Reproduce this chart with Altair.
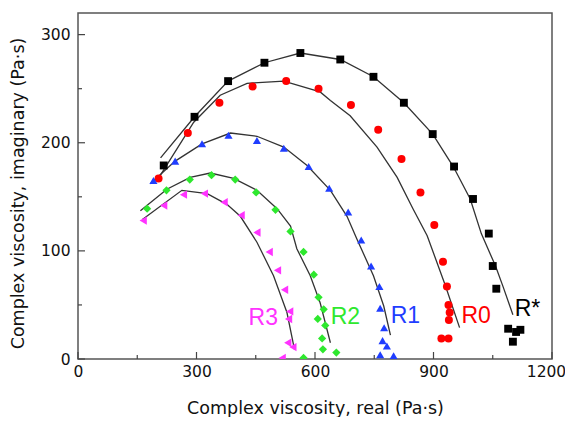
import altair as alt
import pandas as pd

series = ["R*", "R0", "R1", "R2", "R3"]
colors = ["#000000", "#ff0000", "#1f3dff", "#2ee82e", "#ff33ff"]
shapes = ["square", "circle", "triangle-up", "diamond", "triangle-left"]
sizes = [62, 70, 80, 70, 80]

# measured points (real, imaginary)
rs_x = [217, 295, 380, 472, 563, 664, 748, 825, 898, 952, 1000, 1040, 1050, 1059, 1089, 1101, 1109, 1120]
rs_y = [179, 224, 257, 274, 283, 277, 261, 237, 208, 178, 148, 116, 86, 65, 28, 16, 25, 27]
r0_x = [204, 278, 358, 442, 527, 609, 691, 760, 819, 867, 902, 924, 934, 938, 941, 939, 920, 938]
r0_y = [167, 209, 237, 252, 257, 250, 235, 212, 185, 154, 124, 90, 67, 50, 43, 36, 19, 19]
r1_x = [191, 246, 314, 381, 453, 521, 584, 636, 684, 717, 742, 763, 765, 775, 771, 782, 765, 799]
r1_y = [165, 183, 199, 207, 202, 195, 178, 158, 136, 110, 86, 67, 47, 29, 17, 12, 4, 3]
r2_x = [175, 224, 283, 338, 398, 451, 500, 538, 571, 597, 609, 622, 607, 626, 618, 620, 654, 571]
r2_y = [139, 156, 166, 170, 166, 154, 138, 118, 99, 78, 57, 46, 37, 31, 19, 9, 6, 1]
r3_x = [165, 217, 267, 320, 370, 413, 453, 484, 505, 523, 536, 533, 531, 544, 517]
r3_y = [128, 142, 152, 153, 145, 133, 117, 99, 82, 64, 44, 37, 15, 11, 1]

# fitted curves
fs_x = [209, 295, 380, 472, 563, 664, 748, 825, 898, 950, 993, 1021, 1057, 1077, 1101]
fs_y = [186, 224, 257, 274, 283, 277, 261, 237, 208, 178, 148, 116, 86, 66, 41]
f0_x = [200, 293, 360, 428, 521, 613, 639, 689, 757, 808, 848, 884, 930, 966]
f0_y = [165, 219, 244, 255, 257, 247, 239, 225, 196, 168, 139, 114, 68, 29]
f1_x = [183, 246, 314, 386, 453, 521, 580, 639, 681, 706, 748, 774, 791]
f1_y = [162, 183, 199, 209, 206, 196, 179, 156, 132, 111, 77, 49, 22]
f2_x = [158, 225, 284, 335, 394, 453, 504, 538, 554, 588, 613, 639]
f2_y = [137, 157, 168, 172, 167, 156, 139, 123, 102, 77, 52, 15]
f3_x = [163, 263, 327, 377, 411, 453, 495, 529, 548]
f3_y = [129, 156, 153, 143, 132, 108, 77, 43, 9]

label_x = [1138, 1008, 829, 677, 469]
label_y = [46, 40, 40, 39, 38]

x_major = [0, 300, 600, 900, 1200]
x_minor = [150, 450, 750, 1050]
y_major = [0, 100, 200, 300]
y_minor = [50, 150, 250]

pts_x = [rs_x, r0_x, r1_x, r2_x, r3_x]
pts_y = [rs_y, r0_y, r1_y, r2_y, r3_y]
fit_x = [fs_x, f0_x, f1_x, f2_x, f3_x]
fit_y = [fs_y, f0_y, f1_y, f2_y, f3_y]

rows = []
for s, xs_, ys_ in zip(series, pts_x, pts_y):
    for a, b in zip(xs_, ys_):
        rows.append({"s": s, "x": a, "y": b})
pts = pd.DataFrame(rows)

rows = []
for s, xs_, ys_ in zip(series, fit_x, fit_y):
    for i, (a, b) in enumerate(zip(xs_, ys_)):
        rows.append({"s": s, "i": i, "x": a, "y": b})
fit = pd.DataFrame(rows)

labs = pd.DataFrame({"s": series, "x": label_x, "y": label_y})

W, H = 474, 346
xs = alt.Scale(domain=[0, 1200], nice=False, zero=False)
ys = alt.Scale(domain=[0, 320], nice=False, zero=False)
col = alt.Scale(domain=series, range=colors)
shp = alt.Scale(domain=series, range=shapes)
siz = alt.Scale(domain=series, range=sizes)

xaxis = alt.Axis(values=x_major, format="d", title="Complex viscosity, real (Pa\u00b7s)", ticks=False,
                 domain=False, grid=False, labelPadding=5, labelFontSize=15.5, labelFlush=False,
                 labelOffset={"condition": {"test": "datum.value == 1200", "value": -6}, "value": 0},
                 labelFont="DejaVu Sans", labelColor="#111", titleFont="DejaVu Sans",
                 titleFontSize=17.5, titleFontWeight="normal", titleColor="#111",
                 titleBaseline="middle", titleY=49)
yaxis = alt.Axis(values=y_major, format="d", title="Complex viscosity, imaginary (Pa\u00b7s)", ticks=False,
                 domain=False, grid=False, labelPadding=8, labelFontSize=15.5, labelFlush=False,
                 labelFont="DejaVu Sans", labelColor="#111", titleFont="DejaVu Sans",
                 titleFontSize=17.5, titleFontWeight="normal", titleColor="#111",
                 titleAngle=-90, titleBaseline="middle", titleAlign="center",
                 titleX=-60, titleY=180)

lines = alt.Chart(fit).mark_line(color="#333", strokeWidth=1.3, clip=True).encode(
    x=alt.X("x:Q", scale=xs, axis=xaxis),
    y=alt.Y("y:Q", scale=ys, axis=yaxis),
    detail="s:N",
    order="i:Q",
)

points = alt.Chart(pts).mark_point(filled=True, opacity=1, clip=True).encode(
    x=alt.X("x:Q", scale=xs),
    y=alt.Y("y:Q", scale=ys),
    color=alt.Color("s:N", scale=col, legend=None),
    shape=alt.Shape("s:N", scale=shp, legend=None),
    size=alt.Size("s:N", scale=siz, legend=None),
)

labels = alt.Chart(labs).mark_text(font="Liberation Sans", fontSize=23, align="center",
                                   baseline="middle").encode(
    x=alt.X("x:Q", scale=xs),
    y=alt.Y("y:Q", scale=ys),
    text="s:N",
    color=alt.Color("s:N", scale=col, legend=None),
)

def xtick(vals, length, name):
    d = pd.DataFrame({name: vals})
    return alt.Chart(d).mark_rule(color="#444", strokeWidth=1.2).encode(
        x=alt.X(f"{name}:Q", scale=xs), y=alt.value(H), y2=alt.value(H - length))

def ytick(vals, length, name):
    d = pd.DataFrame({name: vals})
    return alt.Chart(d).mark_rule(color="#444", strokeWidth=1.2).encode(
        y=alt.Y(f"{name}:Q", scale=ys), x=alt.value(0), x2=alt.value(length))

chart = alt.layer(
    lines, points, labels,
    xtick(x_major, 7, "xM"), xtick(x_minor, 4, "xm"),
    ytick(y_major, 7, "yM"), ytick(y_minor, 4, "ym"),
).properties(
    width=W, height=H,
    autosize=alt.AutoSizeParams(type="none"),
    padding={"left": 70, "top": 5, "right": 13, "bottom": 58},
).configure_view(stroke="#555", strokeWidth=1.5)

chart.save("out.html", embed_options={"renderer": "svg", "actions": False})
